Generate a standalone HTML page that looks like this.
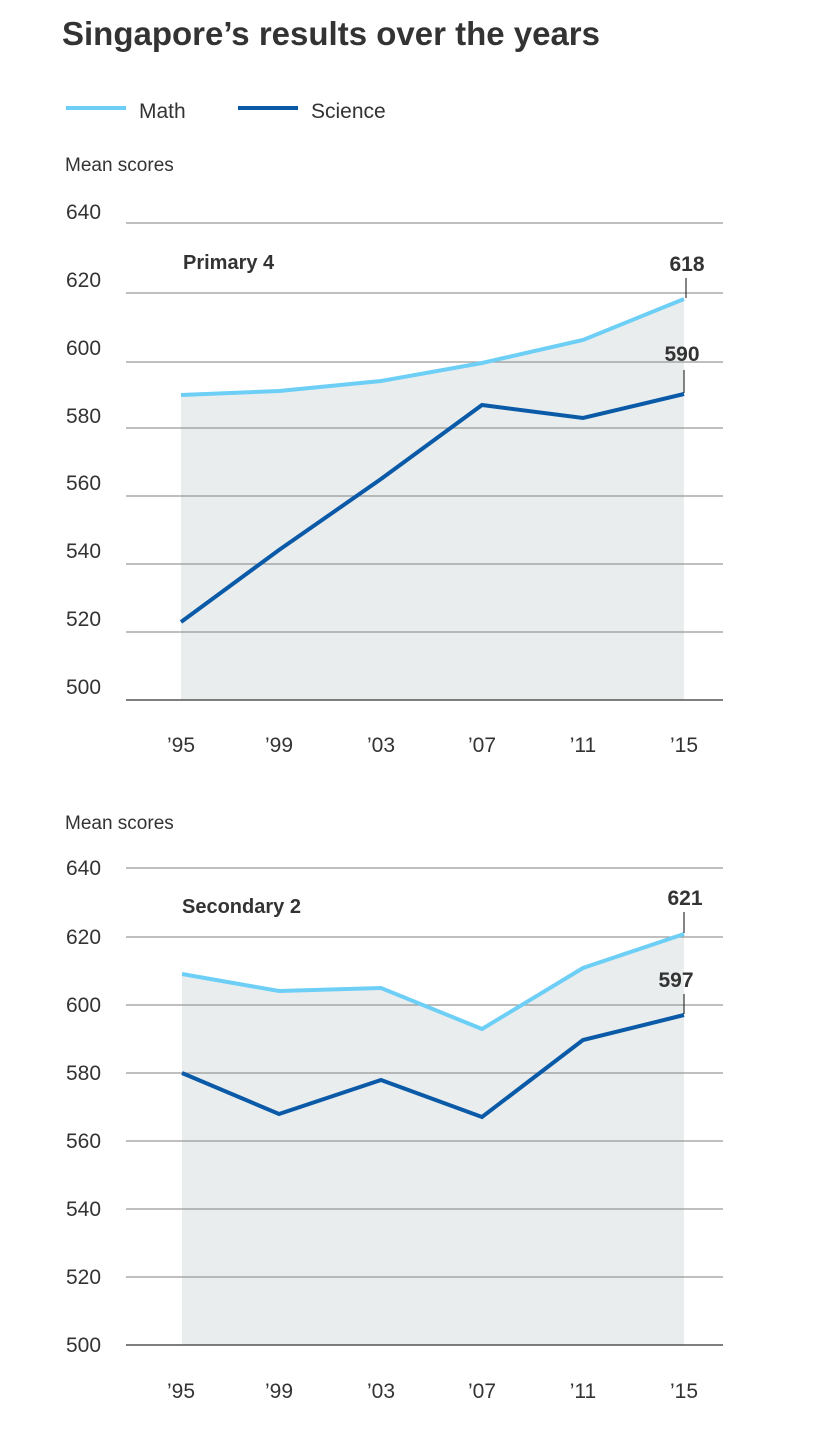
<!DOCTYPE html><html><head><meta charset="utf-8"><style>
body{margin:0;background:#fff;width:836px;height:1430px;overflow:hidden}
svg text{font-family:"Liberation Sans",sans-serif;fill:#333}
</style></head><body>
<svg width="836" height="1430" xmlns="http://www.w3.org/2000/svg">
<text x="62" y="45" font-size="33" font-weight="bold" fill="#222">Singapore’s results over the years</text>
<line x1="66" y1="108" x2="126" y2="108" stroke="#6dcff6" stroke-width="4"/>
<text x="139" y="118" font-size="21">Math</text>
<line x1="238" y1="108" x2="298" y2="108" stroke="#0a5aa8" stroke-width="4"/>
<text x="311" y="118" font-size="21">Science</text>

<!-- chart 1 -->
<text x="65" y="171" font-size="19">Mean scores</text>
<polygon points="181,395 279,391 381,381 482,363 583,340 684,299 684,700 181,700" fill="#e9edee"/>
<g stroke="#999" stroke-width="1.2">
<line x1="126" y1="223" x2="723" y2="223"/><line x1="126" y1="293" x2="723" y2="293"/>
<line x1="126" y1="362" x2="723" y2="362"/><line x1="126" y1="428" x2="723" y2="428"/>
<line x1="126" y1="496" x2="723" y2="496"/><line x1="126" y1="564" x2="723" y2="564"/>
<line x1="126" y1="632" x2="723" y2="632"/></g>
<line x1="126" y1="700" x2="723" y2="700" stroke="#555" stroke-width="1.5"/>
<g font-size="21"><text x="66" y="219">640</text><text x="66" y="287">620</text><text x="66" y="355">600</text><text x="66" y="423">580</text><text x="66" y="490">560</text><text x="66" y="558">540</text><text x="66" y="626">520</text><text x="66" y="694">500</text></g>
<g font-size="21" text-anchor="middle"><text x="181" y="752">’95</text><text x="279" y="752">’99</text><text x="381" y="752">’03</text><text x="482" y="752">’07</text><text x="583" y="752">’11</text><text x="684" y="752">’15</text></g>
<text x="183" y="269" font-size="20" font-weight="bold">Primary 4</text>
<polyline points="181,395 279,391 381,381 482,363 583,340 684,299" fill="none" stroke="#6dcff6" stroke-width="4"/>
<polyline points="181,622 279,550 381,479 482,405 583,418 684,394" fill="none" stroke="#0a5aa8" stroke-width="4"/>
<line x1="686" y1="278" x2="686" y2="298" stroke="#333" stroke-width="1.2"/>
<line x1="684" y1="370" x2="684" y2="393" stroke="#333" stroke-width="1.2"/>
<text x="687" y="271" font-size="21" font-weight="bold" text-anchor="middle">618</text>
<text x="682" y="361" font-size="21" font-weight="bold" text-anchor="middle">590</text>

<!-- chart 2 -->
<text x="65" y="829" font-size="19">Mean scores</text>
<polygon points="182,974 279,991 381,988 482,1029 583,968 684,934 684,1345 182,1345" fill="#e9edee"/>
<g stroke="#999" stroke-width="1.2">
<line x1="126" y1="868" x2="723" y2="868"/><line x1="126" y1="937" x2="723" y2="937"/>
<line x1="126" y1="1005" x2="723" y2="1005"/><line x1="126" y1="1073" x2="723" y2="1073"/>
<line x1="126" y1="1141" x2="723" y2="1141"/><line x1="126" y1="1209" x2="723" y2="1209"/>
<line x1="126" y1="1277" x2="723" y2="1277"/></g>
<line x1="126" y1="1345" x2="723" y2="1345" stroke="#555" stroke-width="1.5"/>
<g font-size="21"><text x="66" y="875">640</text><text x="66" y="944">620</text><text x="66" y="1012">600</text><text x="66" y="1080">580</text><text x="66" y="1148">560</text><text x="66" y="1216">540</text><text x="66" y="1284">520</text><text x="66" y="1352">500</text></g>
<g font-size="21" text-anchor="middle"><text x="181" y="1398">’95</text><text x="279" y="1398">’99</text><text x="381" y="1398">’03</text><text x="482" y="1398">’07</text><text x="583" y="1398">’11</text><text x="684" y="1398">’15</text></g>
<text x="182" y="913" font-size="20" font-weight="bold">Secondary 2</text>
<polyline points="182,974 279,991 381,988 482,1029 583,968 684,934" fill="none" stroke="#6dcff6" stroke-width="4"/>
<polyline points="182,1073 279,1114 381,1080 482,1117 583,1040 684,1015" fill="none" stroke="#0a5aa8" stroke-width="4"/>
<line x1="684" y1="912" x2="684" y2="933" stroke="#333" stroke-width="1.2"/>
<line x1="684" y1="994" x2="684" y2="1014" stroke="#333" stroke-width="1.2"/>
<text x="685" y="905" font-size="21" font-weight="bold" text-anchor="middle">621</text>
<text x="676" y="987" font-size="21" font-weight="bold" text-anchor="middle">597</text>
</svg>
</body></html>
